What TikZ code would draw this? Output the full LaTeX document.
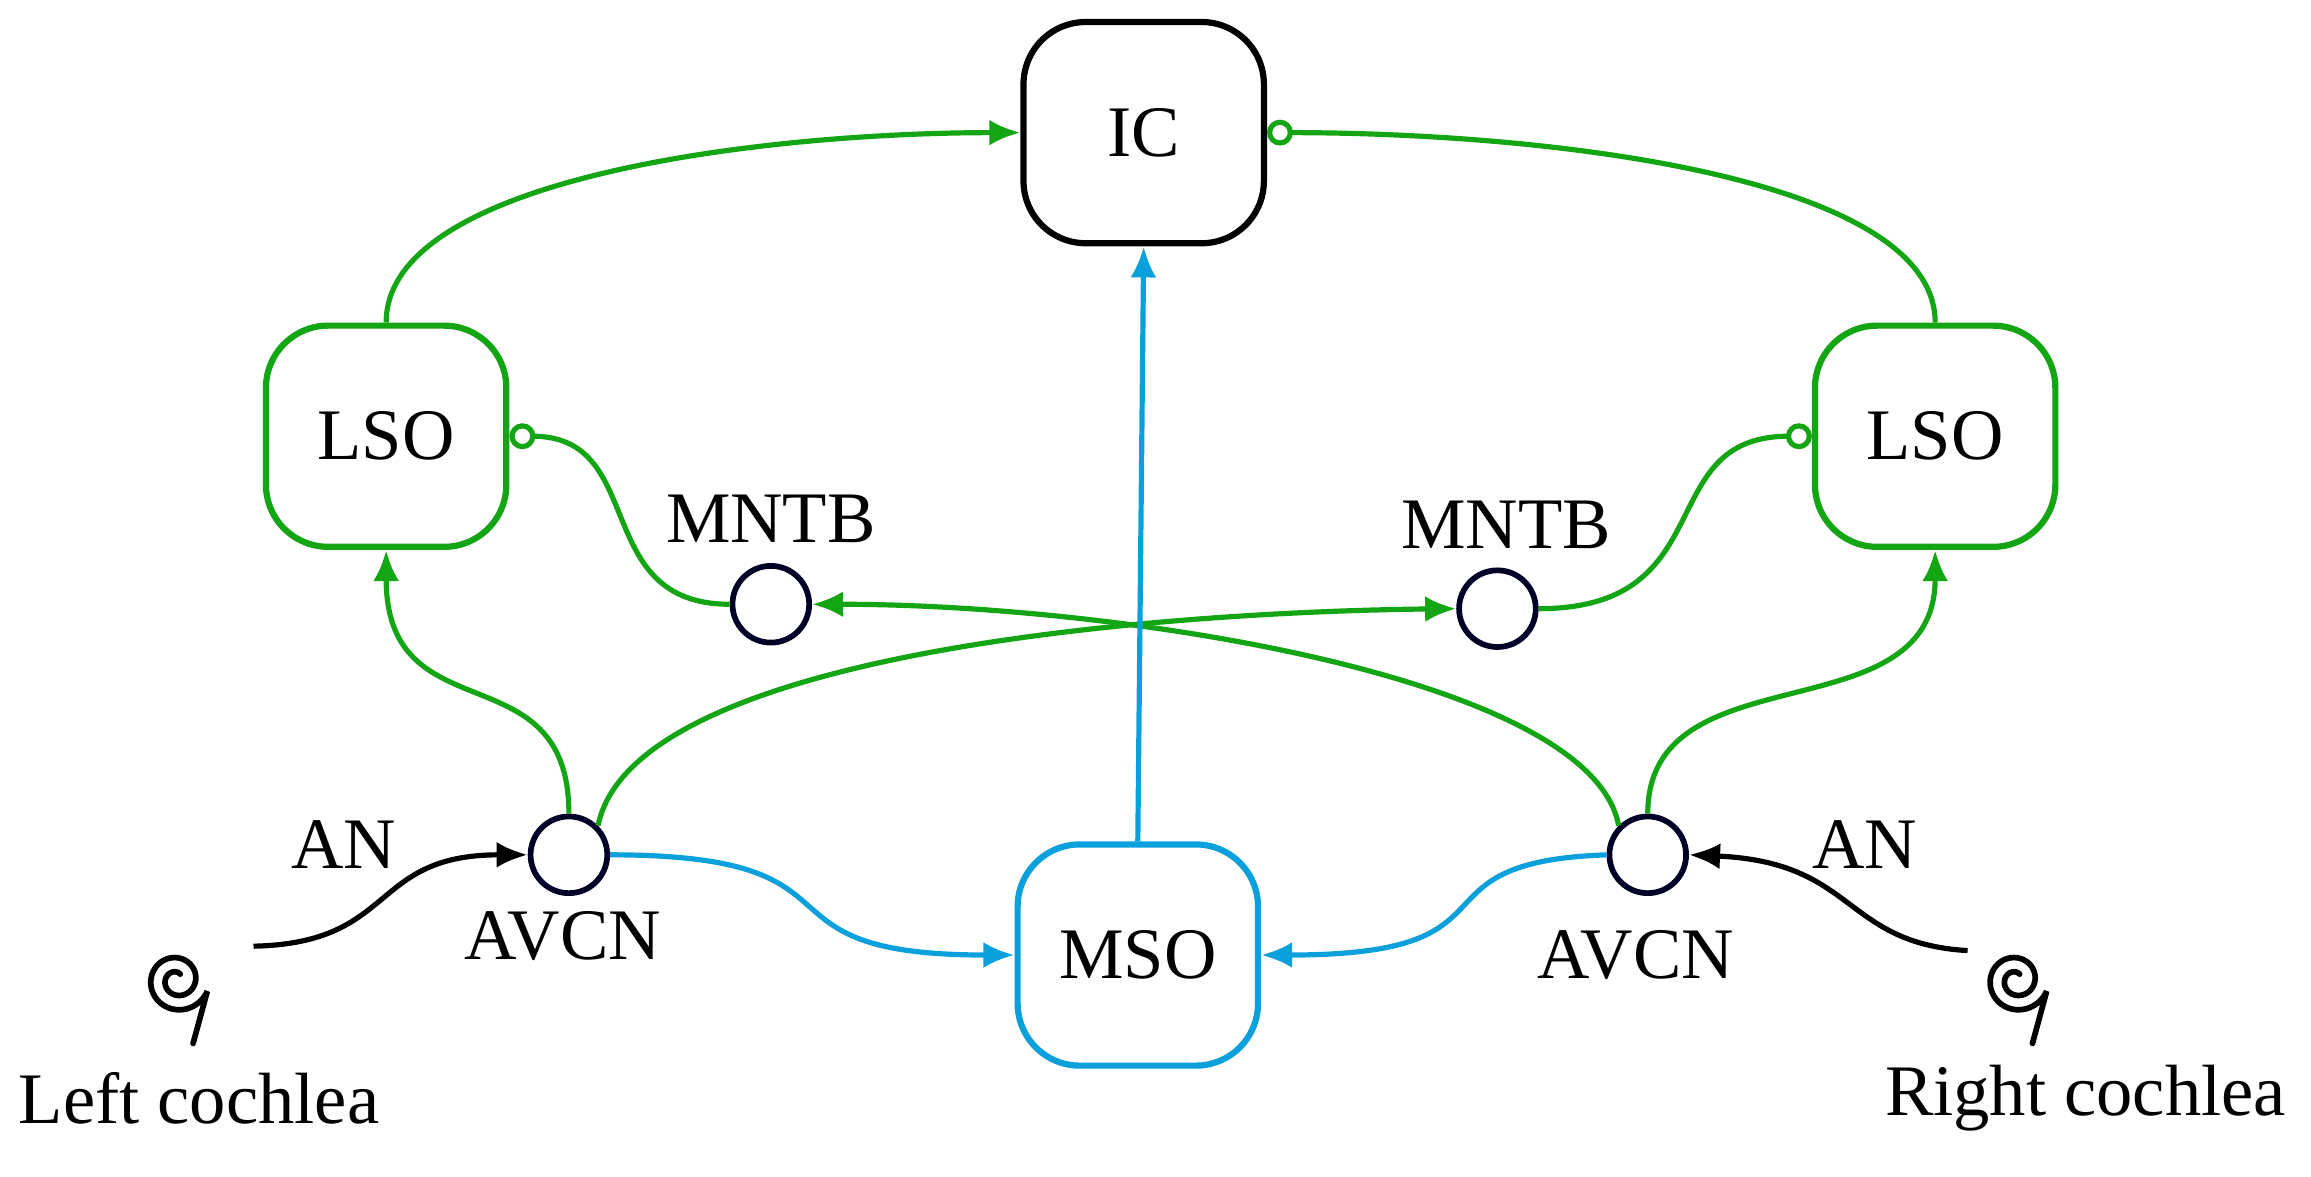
\documentclass[tikz,border=0pt]{standalone}
\usepackage{fontspec}
\setmainfont{Liberation Serif}
\usetikzlibrary{arrows.meta,positioning}
\definecolor{ngreen}{RGB}{20,165,20}
\definecolor{nblue}{RGB}{10,160,220}
\begin{document}
\begin{tikzpicture}[
  x=0.01cm, y=-0.01cm,
  % Styles
  nucleus/.style={draw, line width=1.2pt, rounded corners=12pt, minimum width=1.63cm,
                  minimum height=1.5cm, font=\fontsize{14}{16}\selectfont},
  cell/.style={draw=black!85!blue, circle, line width=1.1pt, minimum size=0.52cm, inner sep=0pt},
  lbl/.style={font=\fontsize{14}{16}\selectfont},
  exc/.style={-{Latex[length=6pt,width=5pt]}, line width=1pt},
  inh/.style={-{Circle[open,length=5pt,width=5pt]}, line width=1pt}
]
\useasboundingbox (0,0) rectangle (1568,798);

% --- nuclei ---
\node[nucleus] (ic) at (776,90) {IC};
\node[nucleus, draw=ngreen] (lsol) at (262,296) {LSO};
\node[nucleus, draw=ngreen] (lsor) at (1313,296) {LSO};
\node[nucleus, draw=nblue] (mso) at (772,648) {MSO};

% --- cells ---
\node[cell] (mntbl) at (523,410) {};
\node[cell] (mntbr) at (1016,413) {};
\node[cell] (avcnl) at (386,580) {};
\node[cell] (avcnr) at (1118,580) {};
\node[lbl] at (523,352) {MNTB};
\node[lbl] at (1022,356) {MNTB};
\node[lbl] at (382,635) {AVCN};
\node[lbl] at (1110,648) {AVCN};
\node[lbl] at (233,573) {AN};
\node[lbl] at (1265,573) {AN};

% --- cochleae ---
\foreach \cx in {120,1368}
  \draw[line width=1.1pt, line cap=round, shift={(\cx,665)}]
    plot[smooth, domain=60:700, samples=90]
    ({(3+\x/700*19)*cos(\x)},{-(3+\x/700*19)*sin(\x)}) -- (11,43);
\coordinate (tipl) at (172,642);
\coordinate (tipr) at (1335,645);
\node[lbl] at (135,745) {Left cochlea};
\node[lbl] at (1415,745) {Right cochlea};

% --- auditory nerve ---
\draw[exc] (tipl) .. controls (270,640) and (250,580) .. (avcnl.west);
\draw[exc] (tipr) .. controls (1250,640) and (1260,585) .. (avcnr.east);

% --- green pathways ---
\draw[exc, ngreen] (lsol.north) .. controls (262,120) and (520,90) .. (ic.west);
\draw[inh, ngreen] (lsor.north) .. controls (1313,120) and (1050,90) .. (ic.east);
\draw[inh, ngreen] (mntbl.west) .. controls (400,410) and (440,296) .. (lsol.east);
\draw[inh, ngreen] (mntbr.east) .. controls (1170,413) and (1120,296) .. (lsor.west);
\draw[exc, ngreen] (avcnl.north) .. controls (386,440) and (262,500) .. (lsol.south);
\draw[exc, ngreen] (avcnr.north) .. controls (1118,440) and (1313,500) .. (lsor.south);
\draw[exc, ngreen] (avcnl.north east) .. controls (430,440) and (800,415) .. (mntbr.west);
\draw[exc, ngreen] (avcnr.north west) .. controls (1080,460) and (760,410) .. (mntbl.east);

% --- blue pathways ---
\draw[exc, nblue] (avcnl.east) .. controls (600,580) and (500,648) .. (mso.west);
\draw[exc, nblue] (avcnr.west) .. controls (950,585) and (1040,648) .. (mso.east);
\draw[exc, nblue] (mso.north) -- (ic.south);
\end{tikzpicture}
\end{document}
